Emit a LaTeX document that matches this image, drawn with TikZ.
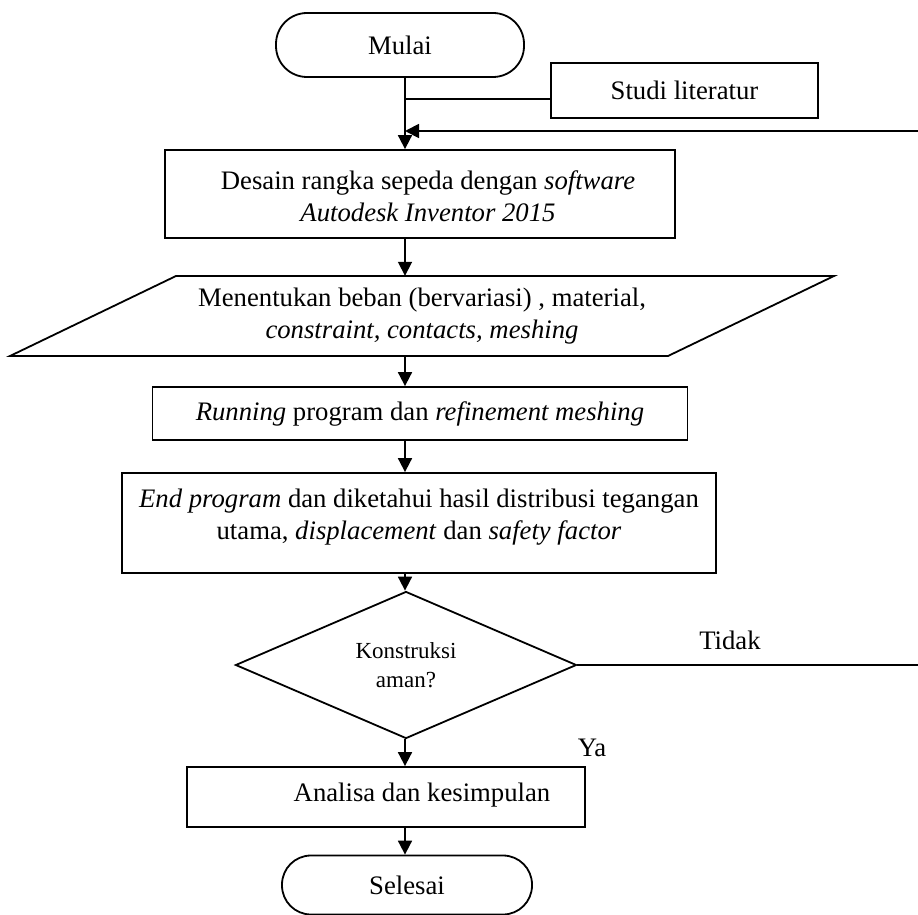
\documentclass[tikz,border=0pt]{standalone}
\usepackage{fontspec}
\setmainfont{Liberation Serif}
\usetikzlibrary{arrows.meta,shapes.geometric,calc}
\begin{document}
\begin{tikzpicture}[x=1pt,y=-1pt,
  every node/.style={font=\fontsize{26.7}{32}\selectfont, align=center, inner sep=0pt},
  box/.style={draw, line width=1.8pt, rectangle},
  term/.style={draw, line width=1.8pt, rectangle, rounded corners=31pt},
  ln/.style={line width=1.8pt},
  arr/.style={line width=1.8pt, -{Triangle[length=14pt,width=14pt]}},
  lbl/.style={font=\fontsize{26.7}{32}\selectfont}
]
\useasboundingbox (0,0) rectangle (918,915);
\coordinate (axis) at (405,0);

\node[term, minimum width=248pt, minimum height=64pt] (mulai) at (400,45) {Mulai};
\node[box, minimum width=267pt, minimum height=55pt] (studi) at (684.5,90.5) {Studi literatur};
\node[box, minimum width=510pt, minimum height=88pt] (desain) at (420,194) {};
\node (desaintxt) at (428,196)
  {Desain rangka sepeda dengan \textit{software}\\ \textit{Autodesk Inventor 2015}};

% parallelogram
\node[minimum width=492pt, minimum height=80pt] (para) at (422,316)
  {Menentukan beban (bervariasi) , material,\\ \textit{constraint, contacts, meshing}};
\draw[ln] (176,276) -- (834,276) -- (668,356) -- (10,356) -- cycle;

\node[box, minimum width=535pt, minimum height=53pt] (running) at (420,413.5)
  {\textit{Running} program dan \textit{refinement meshing}};
\node[box, minimum width=594pt, minimum height=100pt] (endp) at (419,523) {};
\node (endtxt) at (419,517)
  {\textit{End program} dan diketahui hasil distribusi tegangan\\ utama, \textit{displacement} dan \textit{safety factor}};
\node[draw, line width=1.8pt, diamond, minimum width=341pt, minimum height=147pt,
  font=\fontsize{23}{29}\selectfont] (dec) at (406,665) {Konstruksi\\aman?};
\node[box, minimum width=398pt, minimum height=60pt] (analisa) at (386,797) {};
\node (analisatxt) at (422,795) {Analisa dan kesimpulan};
\node[term, rounded corners=29pt, minimum width=250pt, minimum height=59pt] (selesai) at (407,885) {Selesai};

\coordinate (fbR) at (918,131);
\coordinate (tidakR) at (918,665);
\coordinate (studiJ) at ([yshift=-8.5pt]studi.west);

% connectors
\draw[arr] (axis |- mulai.south) -- (axis |- desain.north);
\draw[ln] (studiJ) -- (axis |- studiJ);
\draw[arr] (fbR) -- (axis |- fbR);
\draw[arr] (axis |- desain.south) -- (axis |- para.north);
\draw[arr] (axis |- para.south) -- (axis |- running.north);
\draw[arr] (axis |- running.south) -- (axis |- endp.north);
\draw[arr] (axis |- endp.south) -- (axis |- dec.north);
\draw[ln] (dec.east) -- (tidakR);
\draw[arr] (axis |- dec.south) -- (axis |- analisa.north);
\draw[arr] (axis |- analisa.south) -- (axis |- selesai.north);

\node[lbl] (tidak) at (730,640) {Tidak};
\node[lbl] (ya) at (592,748) {Ya};
\end{tikzpicture}
\end{document}
